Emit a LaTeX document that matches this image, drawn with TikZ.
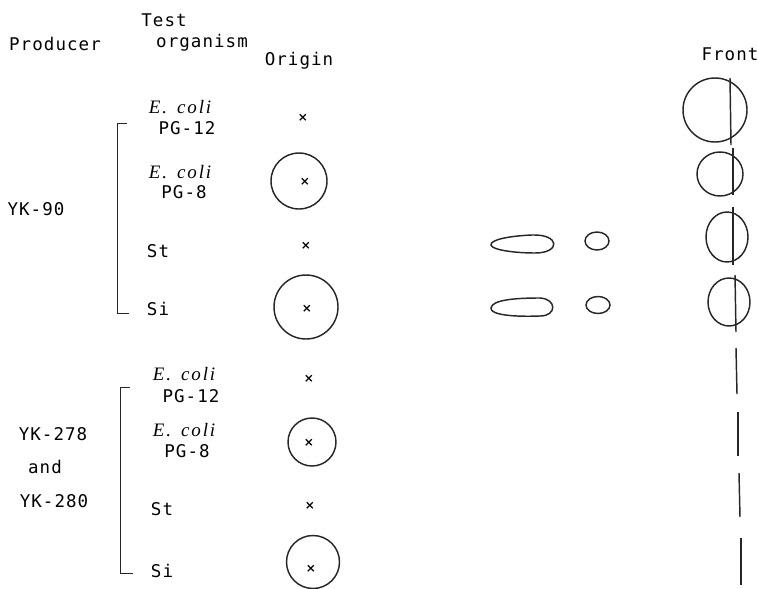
\documentclass[tikz,border=0pt]{standalone}
\usepackage{fontspec}
\newfontfamily\labfont[LetterSpace=6]{DejaVu Sans Mono}
\newfontfamily\ecfont[LetterSpace=10]{Liberation Serif}
\newfontfamily\symfont{DejaVu Sans}
\newcommand\ecoli{E.\hspace{10pt}coli}
\begin{document}
\begin{tikzpicture}[x=1pt,y=-1pt,
  lab/.style={anchor=base,inner sep=0pt,font=\labfont\fontsize{17.5}{17.5}\selectfont},
  sp/.style={anchor=base,inner sep=0pt,font=\ecfont\itshape\fontsize{19}{19}\selectfont},
  cross/.style={inner sep=0pt,font=\symfont\bfseries\fontsize{12}{12}\selectfont},
  ink/.style={line width=1.45pt,black!85},
  spot/.style={ink},
]
\useasboundingbox (0,0) rectangle (758,589);

% column headings
\node[lab] (hprod) at (55,50) {Producer};
\node[lab] (htest) at (164,27) {Test};
\node[lab] (horg)  at (202,47) {organism};
\node[lab] (horig) at (299,65) {Origin};
\node[lab] (hfront) at (730,60) {Front};

% producer YK-90
\node[lab] (p1) at (36,215) {YK-90};
\node[sp]  (a1) at (180,113) {\ecoli};
\node[lab] (a2) at (187,134) {PG-12};
\node[sp]  (b1) at (180,178) {\ecoli};
\node[lab] (b2) at (184,198) {PG-8};
\node[lab] (c1) at (158,257) {St};
\node[lab] (d1) at (158,315) {Si};
\draw[ink,line width=1pt] (127,123) -- (117,123) -- (117,313) -- (129,313);

% producers YK-278 and YK-280
\node[lab] (p2) at (53,440) {YK-278};
\node[lab] (p3) at (45,473) {and};
\node[lab] (p4) at (54,507) {YK-280};
\node[sp]  (e1) at (184,380) {\ecoli};
\node[lab] (e2) at (191,402) {PG-12};
\node[sp]  (f1) at (184,436) {\ecoli};
\node[lab] (f2) at (187,457) {PG-8};
\node[lab] (g1) at (162,515) {St};
\node[lab] (h1) at (162,577) {Si};
\draw[ink,line width=1pt] (130,387) -- (120,387) -- (120,573) -- (133,573);

% application points
\node[cross] (o1) at (303,118) {×};
\node[cross] (o2) at (305,182) {×};
\node[cross] (o3) at (306,246) {×};
\node[cross] (o4) at (307,309) {×};
\node[cross] (o5) at (309,379) {×};
\node[cross] (o6) at (309,443) {×};
\node[cross] (o7) at (310,506) {×};
\node[cross] (o8) at (311,569) {×};

% inhibition zones at the origin
\draw[spot] (299,181) circle (28);
\draw[spot] (306,307) circle (32);
\draw[spot] (312,442) circle (24);
\draw[spot] (313,562) circle (26.5);

% zones along the run
\draw[spot] (491,245) .. controls (490,240) and (508,236) .. (532,235)
  .. controls (560,234) and (561,253) .. (535,253)
  .. controls (515,253) and (492,250) .. (491,245) -- cycle;
\draw[spot] (597,241) ellipse (12 and 9);
\draw[spot] (491,308) .. controls (492,300) and (514,298) .. (540,298)
  .. controls (557,299) and (557,316) .. (540,316)
  .. controls (514,317) and (490,315) .. (491,308) -- cycle;
\draw[spot] (598,305) ellipse (12 and 8.5);

% zones at the solvent front
\draw[spot] (715,110) circle (32);
\draw[spot] (720,174) ellipse (23 and 22);
\draw[spot] (727,237) ellipse (21 and 25);
\draw[spot] (729,302) ellipse (21 and 24);

% solvent front
\draw[ink] (730,78) -- (731,145);
\draw[ink] (733,148) -- (733,195);
\draw[ink] (733,207) -- (733,265);
\draw[ink] (735,275) -- (736,332);
\draw[ink] (736,348) -- (737,394);
\draw[ink] (738,412) -- (738,456);
\draw[ink] (739,473) -- (740,517);
\draw[ink] (741,538) -- (741,585);
\end{tikzpicture}
\end{document}
